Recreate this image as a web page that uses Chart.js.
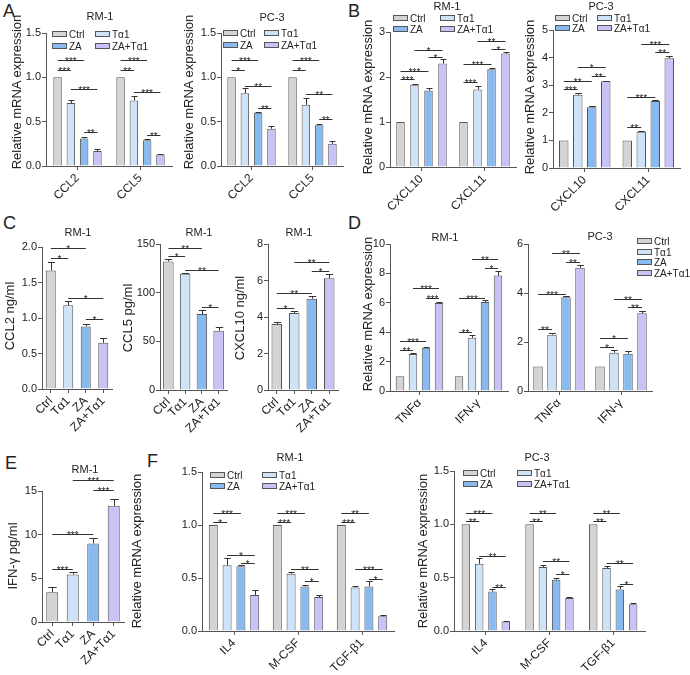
<!DOCTYPE html>
<html>
<head>
<meta charset="utf-8">
<script src="https://cdn.jsdelivr.net/npm/chart.js@4.4.1/dist/chart.umd.min.js"></script>
<style>
  body { margin: 0; background: #fff; width: 690px; height: 675px; position: relative; overflow: hidden;
         font-family: "Liberation Sans", Arial, sans-serif; color: #222; }
  canvas { position: absolute; }
  .tt { position: absolute; white-space: nowrap; transform: translate(-50%, -50%); font-size: 11px; }
  .yl { position: absolute; white-space: nowrap; width: 200px; height: 16px; line-height: 16px; text-align: center;
        transform: rotate(-90deg); font-size: 13px; }
  .pl { position: absolute; font-size: 18px; line-height: 18px; }
  .lg { position: absolute; white-space: nowrap; font-size: 10px; line-height: 10px; transform: translateY(-50%); }
  .lg i { display: inline-block; width: 13px; height: 4px; border: 1px solid #555; margin-right: 2px; vertical-align: 1px; }
</style>
</head>
<body>
<script>
// groups shared by every panel
const groups = ['Ctrl', 'Tα1', 'ZA', 'ZA+Tα1'];
const colors = ['#d4d4d4', '#cfe3f8', '#88baf0', '#c7c3f7'];

// A: relative mRNA, one row per group, one value per category
const aCats = ['CCL2', 'CCL5'];
const aRM = [[1, 1], [0.71, 0.74], [0.31, 0.29], [0.17, 0.13]];
const aRMErr = [[0, 0], [0.03, 0.05], [0.02, 0.02], [0.02, 0.01]];
const aRMSig = [[0,0,1,1.08,'***'], [0,0,2,1.19,'***'], [0,1,3,0.87,'***'], [0,2,3,0.38,'**'],
                [1,0,1,1.08,'**'], [1,0,2,1.19,'***'], [1,1,3,0.84,'***'], [1,2,3,0.35,'**']];
const aPC = [[1, 1], [0.82, 0.69], [0.60, 0.46], [0.42, 0.25]];
const aPCErr = [[0, 0], [0.06, 0.08], [0.01, 0.01], [0.03, 0.03]];
const aPCSig = [[0,0,1,1.08,'*'], [0,0,2,1.19,'***'], [0,1,3,0.90,'**'], [0,2,3,0.65,'**'],
                [1,0,1,1.08,'*'], [1,0,2,1.19,'***'], [1,1,3,0.81,'**'], [1,2,3,0.53,'**']];

// B
const bCats = ['CXCL10', 'CXCL11'];
const bRM = [[1, 1], [1.83, 1.72], [1.70, 2.17], [2.30, 2.52]];
const bRMErr = [[0, 0], [0.02, 0.08], [0.05, 0.03], [0.09, 0.03]];
const bRMSig = [[0,0,1,1.95,'***'], [0,0,2,2.13,'***'], [0,2,3,2.44,'*'], [0,1,3,2.61,'*'],
                [1,0,1,1.88,'***'], [1,0,2,2.30,'***'], [1,2,3,2.63,'*'], [1,1,3,2.79,'**']];
const bPC = [[1, 1], [2.65, 1.31], [2.20, 2.43], [3.14, 3.98]];
const bPCErr = [[0, 0], [0.06, 0.03], [0.05, 0.02], [0.03, 0.07]];
const bPCSig = [[0,0,1,2.85,'***'], [0,0,2,3.15,'**'], [0,2,3,3.33,'**'], [0,1,3,3.65,'*'],
                [1,0,1,1.50,'**'], [1,0,2,2.56,'***'], [1,2,3,4.21,'**'], [1,1,3,4.51,'***']];

// C: protein levels, one value per group
const cCCL2 = [1.67, 1.18, 0.88, 0.65];
const cCCL2Err = [0.12, 0.06, 0.03, 0.07];
const cCCL2Sig = [[0,0,1,1.85,'*'], [0,0,2,1.99,'*'], [0,1,3,1.28,'*'], [0,2,3,0.98,'*']];
const cCCL5 = [132, 119.5, 78, 61];
const cCCL5Err = [3, 0.8, 4, 3.5];
const cCCL5Sig = [[0,0,1,138,'*'], [0,0,2,146,'**'], [0,1,3,123,'**'], [0,2,3,85,'*']];
const cCXCL10 = [3.62, 4.22, 5.0, 6.12];
const cCXCL10Err = [0.1, 0.13, 0.13, 0.22];
const cCXCL10Sig = [[0,0,1,4.52,'*'], [0,0,2,5.31,'**'], [0,2,3,6.5,'*'], [0,1,3,7.02,'**']];

// D
const dCats = ['TNFα', 'IFN-γ'];
const dRM = [[1, 1], [2.52, 3.62], [2.95, 6.06], [5.98, 7.85]];
const dRMErr = [[0, 0], [0.08, 0.22], [0.04, 0.1], [0.1, 0.32]];
const dRMSig = [[0,0,1,2.82,'**'], [0,0,2,3.43,'***'], [0,2,3,6.35,'***'], [0,1,3,6.98,'***'],
                [1,0,1,4.04,'**'], [1,0,2,6.35,'***'], [1,2,3,8.34,'*'], [1,1,3,8.95,'**']];
const dPC = [[1, 1], [2.30, 1.56], [3.83, 1.52], [5.03, 3.17]];
const dPCErr = [[0, 0], [0.07, 0.12], [0.03, 0.12], [0.13, 0.08]];
const dPCSig = [[0,0,1,2.52,'**'], [0,0,2,3.96,'***'], [0,2,3,5.28,'**'], [0,1,3,5.65,'**'],
                [1,0,1,1.81,'*'], [1,0,2,2.15,'*'], [1,2,3,3.44,'**'], [1,1,3,3.77,'**']];

// E
const eIFN = [3.4, 5.45, 9.0, 13.3];
const eIFNErr = [0.65, 0.3, 0.6, 0.8];
const eIFNSig = [[0,0,1,6.1,'***'], [0,0,2,10.1,'***'], [0,2,3,15.1,'***'], [0,1,3,16.3,'***']];

// F
const fCats = ['IL4', 'M-CSF', 'TGF-β1'];
const fRM = [[1, 1, 1], [0.62, 0.54, 0.41], [0.61, 0.42, 0.42], [0.34, 0.32, 0.14]];
const fRMErr = [[0, 0, 0], [0.07, 0.02, 0.01], [0.01, 0.01, 0.05], [0.05, 0.02, 0.01]];
const fRMSig = [[0,0,1,1.03,'*'], [0,0,2,1.115,'***'], [0,1,3,0.72,'*'], [0,2,3,0.64,'*'],
                [1,0,1,1.03,'***'], [1,0,2,1.115,'***'], [1,1,3,0.585,'**'], [1,2,3,0.467,'*'],
                [2,0,1,1.03,'***'], [2,0,2,1.115,'**'], [2,1,3,0.585,'***'], [2,2,3,0.49,'*']];
const fPC = [[1, 1, 1], [0.63, 0.60, 0.59], [0.37, 0.48, 0.39], [0.09, 0.31, 0.25]];
const fPCErr = [[0, 0, 0], [0.05, 0.02, 0.02], [0.02, 0.02, 0.03], [0.005, 0.005, 0.01]];
const fPCSig = [[0,0,1,1.03,'**'], [0,0,2,1.11,'***'], [0,1,3,0.705,'**'], [0,2,3,0.415,'**'],
                [1,0,1,1.03,'**'], [1,0,2,1.11,'**'], [1,1,3,0.656,'**'], [1,2,3,0.537,'*'],
                [2,0,1,1.03,'**'], [2,0,2,1.11,'**'], [2,1,3,0.635,'**'], [2,2,3,0.438,'*']];

const FONT = '"Liberation Sans", Arial, sans-serif';
const AX = '#555';

function barX(chart, c, a) {
    if (chart.data.datasets.length > 1) return chart.getDatasetMeta(a).data[c].x;
    return chart.getDatasetMeta(0).data[a].x;
}

// error bars + significance brackets
const sigPlugin = {
    id: 'sig',
    afterDatasetsDraw(chart, args, opts) {
        const ctx = chart.ctx, y = chart.scales.y;
        ctx.save();
        ctx.strokeStyle = '#333';
        ctx.lineWidth = 1;
        chart.data.datasets.forEach((ds, i) => {
            chart.getDatasetMeta(i).data.forEach((bar, j) => {
                const e = opts.err[i][j];
                if (!e) return;
                const top = Math.round(y.getPixelForValue(ds.data[j] + e)) + 0.5;
                const x = Math.round(bar.x) + 0.5, w = bar.width * 0.35;
                ctx.beginPath();
                ctx.moveTo(x, bar.y);
                ctx.lineTo(x, top);
                ctx.moveTo(x - w, top);
                ctx.lineTo(x + w, top);
                ctx.stroke();
            });
        });
        ctx.fillStyle = '#222';
        ctx.font = '10px ' + FONT;
        ctx.textAlign = 'center';
        ctx.textBaseline = 'alphabetic';
        opts.marks.forEach(([c, a, b, v, s]) => {
            const xa = barX(chart, c, a), xb = barX(chart, c, b);
            const py = Math.round(y.getPixelForValue(v)) + 0.5;
            ctx.beginPath();
            ctx.moveTo(xa, py);
            ctx.lineTo(xb, py);
            ctx.stroke();
            ctx.fillText(s, (xa + xb) / 2, py + 4);
        });
        ctx.restore();
    }
};

function panel(p) {
    const padTop = 40, padRight = 12, yW = 32, xH = 62;
    const L = Math.round(p.L), T = Math.round(p.T), R = Math.round(p.R), B = Math.round(p.B);
    const w = yW + (R - L) + padRight, h = padTop + (B - T) + xH;
    const cv = document.createElement('canvas');
    cv.width = w; cv.height = h;
    cv.style.left = (L - yW) + 'px';
    cv.style.top = (T - padTop) + 'px';
    cv.style.width = w + 'px';
    cv.style.height = h + 'px';
    document.body.appendChild(cv);

    let datasets, err;
    if (p.cats) {
        const catW = (R - L) / p.cats.length;
        datasets = groups.map((g, i) => ({
            label: g, data: p.values[i], backgroundColor: colors[i], borderColor: AX, borderWidth: 1,
            categoryPercentage: 4 * p.sp / catW, barPercentage: p.bw / p.sp
        }));
        err = p.err;
    } else {
        const catW = (R - L) / groups.length;
        datasets = [{
            data: p.values, backgroundColor: colors, borderColor: AX, borderWidth: 1,
            categoryPercentage: 1, barPercentage: p.bw / catW
        }];
        err = [p.err];
    }

    new Chart(cv.getContext('2d'), {
        type: 'bar',
        data: { labels: p.cats || groups, datasets: datasets },
        plugins: [sigPlugin],
        options: {
            responsive: false,
            animation: false,
            devicePixelRatio: 1,
            layout: { padding: { top: padTop, right: padRight, left: 0, bottom: 0 } },
            plugins: {
                legend: { display: false },
                tooltip: { enabled: false },
                sig: { err: err, marks: p.sig }
            },
            scales: {
                x: {
                    offset: true,
                    grid: { drawOnChartArea: false, drawTicks: true, tickLength: 4, color: AX, offset: false },
                    border: { color: AX },
                    ticks: { autoSkip: false, maxRotation: 45, minRotation: 45, padding: 1, color: '#222',
                             font: { family: FONT, size: 12 } },
                    afterFit: s => { s.height = xH; }
                },
                y: {
                    min: 0, max: p.max,
                    grid: { drawOnChartArea: false, drawTicks: true, tickLength: 4, color: AX },
                    border: { color: AX },
                    ticks: { stepSize: p.step, padding: 1, color: '#222', font: { family: FONT, size: 11 },
                             callback: v => v.toFixed(p.dec || 0) },
                    afterFit: s => { s.width = yW; }
                }
            }
        }
    });
}

function text(cls, x, y, s) {
    const d = document.createElement('div');
    d.className = cls;
    d.style.left = x + 'px';
    d.style.top = y + 'px';
    d.textContent = s;
    document.body.appendChild(d);
}

// rotated axis title, centred on (x, y)
function ylabel(x, y, s) {
    text('yl', x - 100, y - 8, s);
}

function legend(x, y, i) {
    const d = document.createElement('div');
    d.className = 'lg';
    d.style.left = x + 'px';
    d.style.top = y + 'px';
    d.innerHTML = '<i style="background:' + colors[i] + '"></i>' + groups[i];
    document.body.appendChild(d);
}

function legend2x2(x1, x2, y1, y2) {
    legend(x1, y1, 0); legend(x2, y1, 1);
    legend(x1, y2, 2); legend(x2, y2, 3);
}

// panel letters
text('pl', 3, 2, 'A');
text('pl', 348, 2, 'B');
text('pl', 3, 214, 'C');
text('pl', 348, 214, 'D');
text('pl', 5, 454, 'E');
text('pl', 147, 452, 'F');

// A
panel({ L: 46, T: 33, R: 172, B: 166, max: 1.5, step: 0.5, dec: 1, sp: 13.3, bw: 8.5,
        cats: aCats, values: aRM, err: aRMErr, sig: aRMSig });
panel({ L: 221, T: 33, R: 343, B: 166, max: 1.5, step: 0.5, dec: 1, sp: 13.3, bw: 8.5,
        cats: aCats, values: aPC, err: aPCErr, sig: aPCSig });
text('tt', 100, 16, 'RM-1');
text('tt', 272, 17, 'PC-3');
ylabel(17, 92, 'Relative mRNA expression');
ylabel(189, 92, 'Relative mRNA expression');
legend2x2(52, 95, 35, 47);
legend2x2(223, 264, 34, 46);

// B
panel({ L: 390, T: 32, R: 516, B: 167, max: 3, step: 1, sp: 14, bw: 8.5,
        cats: bCats, values: bRM, err: bRMErr, sig: bRMSig });
panel({ L: 553, T: 30, R: 680, B: 168, max: 5, step: 1, sp: 14, bw: 9.5,
        cats: bCats, values: bPC, err: bPCErr, sig: bPCSig });
text('tt', 447, 6, 'RM-1');
text('tt', 601, 6, 'PC-3');
ylabel(368, 97, 'Relative mRNA expression');
ylabel(530, 97, 'Relative mRNA expression');
legend2x2(393, 440, 19, 30);
legend2x2(555, 597, 19, 29);

// C
panel({ L: 42, T: 247, R: 112, B: 389, max: 2, step: 0.5, dec: 1, bw: 10,
        values: cCCL2, err: cCCL2Err, sig: cCCL2Sig });
panel({ L: 160, T: 244, R: 227, B: 390, max: 150, step: 50, bw: 10.5,
        values: cCCL5, err: cCCL5Err, sig: cCCL5Sig });
panel({ L: 268, T: 244, R: 338, B: 390, max: 8, step: 2, bw: 10.5,
        values: cCXCL10, err: cCXCL10Err, sig: cCXCL10Sig });
text('tt', 78, 232, 'RM-1');
text('tt', 199, 232, 'RM-1');
text('tt', 299, 232, 'RM-1');
ylabel(10, 316, 'CCL2 ng/ml');
ylabel(128, 318, 'CCL5 pg/ml');
ylabel(240, 318, 'CXCL10  ng/ml');

// D
panel({ L: 390, T: 244, R: 508, B: 391, max: 10, step: 2, sp: 13, bw: 8.5,
        cats: dCats, values: dRM, err: dRMErr, sig: dRMSig });
panel({ L: 528, T: 244, R: 652, B: 391, max: 6, step: 2, sp: 14, bw: 9.5,
        cats: dCats, values: dPC, err: dPCErr, sig: dPCSig });
text('tt', 445, 237, 'RM-1');
text('tt', 600, 236, 'PC-3');
ylabel(368, 314, 'Relative mRNA expression');
legend(637, 242, 0);
legend(637, 252.5, 1);
legend(637, 263, 2);
legend(637, 273.5, 3);

// E
panel({ L: 42, T: 491, R: 124, B: 622, max: 15, step: 5, bw: 12,
        values: eIFN, err: eIFNErr, sig: eIFNSig });
text('tt', 85, 469, 'RM-1');
ylabel(13, 556, 'IFN-γ pg/ml');

// F
panel({ L: 202, T: 472, R: 394, B: 631, max: 1.5, step: 0.5, dec: 1, sp: 13.8, bw: 9,
        cats: fCats, values: fRM, err: fRMErr, sig: fRMSig });
panel({ L: 454, T: 471, R: 645, B: 631, max: 1.5, step: 0.5, dec: 1, sp: 13.3, bw: 8.5,
        cats: fCats, values: fPC, err: fPCErr, sig: fPCSig });
text('tt', 290, 457, 'RM-1');
text('tt', 537, 457, 'PC-3');
ylabel(137, 551, 'Relative mRNA expression');
ylabel(423, 551, 'Relative mRNA expression');
legend2x2(210, 262, 476, 487);
legend2x2(463, 517, 474, 485);
</script>
</body>
</html>
